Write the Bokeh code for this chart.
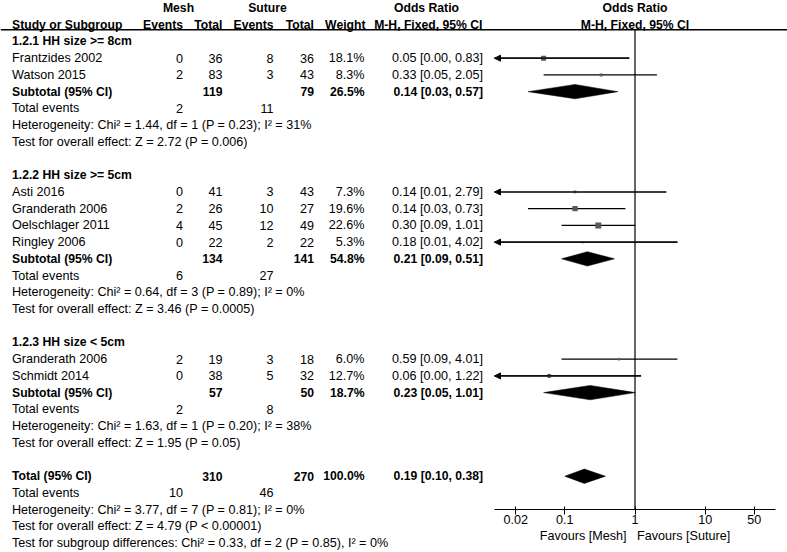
import math
from collections import defaultdict
from bokeh.plotting import figure
from bokeh.models import (ColumnDataSource, Range1d, Span, FixedTicker, LogScale, LogAxis,
                          CustomJSTickFormatter, Arrow, NormalHead)
from bokeh.core.properties import value
from bokeh.embed import file_html
from bokeh.resources import INLINE

# ---------------- data ----------------
groups = ["1.2.1 HH size >= 8cm", "1.2.2 HH size >= 5cm", "1.2.3 HH size < 5cm"]
study_names = ["Frantzides 2002", "Watson 2015", "Asti 2016", "Granderath 2006",
               "Oelschlager 2011", "Ringley 2006", "Granderath 2006", "Schmidt 2014"]
study_group = [0, 0, 1, 1, 1, 1, 2, 2]
mesh_events = [0, 2, 0, 2, 4, 0, 2, 0]
mesh_total = [36, 83, 41, 26, 45, 22, 19, 38]
suture_events = [8, 3, 3, 10, 12, 2, 3, 5]
suture_total = [36, 43, 43, 27, 49, 22, 18, 32]
weight = [18.1, 8.3, 7.3, 19.6, 22.6, 5.3, 6.0, 12.7]
odds_ratio = [0.05, 0.33, 0.14, 0.14, 0.30, 0.18, 0.59, 0.06]
ci_low = [0.00, 0.05, 0.01, 0.03, 0.09, 0.01, 0.09, 0.00]
ci_high = [0.83, 2.05, 2.79, 0.73, 1.01, 4.02, 4.01, 1.22]
ci_low_off_scale = [True, False, True, False, False, True, False, True]

sub_mesh_events = [2, 6, 2]
sub_suture_events = [11, 27, 8]
sub_mesh_total = [119, 134, 57]
sub_suture_total = [79, 141, 50]
sub_weight = [26.5, 54.8, 18.7]
sub_or = [0.14, 0.21, 0.23]
sub_low = [0.03, 0.09, 0.05]
sub_high = [0.57, 0.51, 1.01]
sub_heterogeneity = ["Heterogeneity: Chi\u00b2 = 1.44, df = 1 (P = 0.23); I\u00b2 = 31%",
                     "Heterogeneity: Chi\u00b2 = 0.64, df = 3 (P = 0.89); I\u00b2 = 0%",
                     "Heterogeneity: Chi\u00b2 = 1.63, df = 1 (P = 0.20); I\u00b2 = 38%"]
sub_overall = ["Test for overall effect: Z = 2.72 (P = 0.006)",
               "Test for overall effect: Z = 3.46 (P = 0.0005)",
               "Test for overall effect: Z = 1.95 (P = 0.05)"]

total_mesh_total = 310
total_suture_total = 270
total_weight = 100.0
total_or = 0.19
total_low = 0.10
total_high = 0.38
total_mesh_events = 10
total_suture_events = 46
total_heterogeneity = "Heterogeneity: Chi\u00b2 = 3.77, df = 7 (P = 0.81); I\u00b2 = 0%"
total_overall = "Test for overall effect: Z = 4.79 (P < 0.00001)"
subgroup_diff = "Test for subgroup differences: Chi\u00b2 = 0.33, df = 2 (P = 0.85), I\u00b2 = 0%"

tick_values = [0.02, 0.1, 1, 10, 50]
tick_labels = ["0.02", "0.1", "1", "10", "50"]
axis_min, axis_max = 0.01, 100
null_value = 1
favours_left = "Favours [Mesh]"
favours_right = "Favours [Suture]"

# ---------------- layout constants ----------------
FONT = "Liberation Sans"
FS_N = "12.6px"
FS_B = "12.2px"
ROW_PX = 16.72
TOP = -0.452
W, H = 787, 552
X_STUDY, X_ME, X_MT, X_SE, X_ST, X_W, X_OR = 11.5, 182.5, 222, 273, 313.5, 364, 482.5
HEADER_LINE_ROW = 1.30
AX_X0, AX_X1 = 494, 775          # page px of axis_min / axis_max
SQ_COLOR = "#5a5a5a"
LW = 1.2

texts = []   # (x, row, text, align, bold)
texts += [(178, 0, "Mesh", "center", True), (267, 0, "Suture", "center", True),
          (426, 0, "Odds Ratio", "center", True),
          (X_STUDY, 1, "Study or Subgroup", "left", True),
          (X_ME, 1, "Events", "right", True), (X_MT, 1, "Total", "right", True),
          (X_SE, 1, "Events", "right", True), (X_ST, 1, "Total", "right", True),
          (365, 1, "Weight", "right", True),
          (482, 1, "M-H, Fixed, 95% CI", "right", True)]


def or_txt(o, lo, hi):
    return f"{o:.2f} [{lo:.2f}, {hi:.2f}]"


r = 2
study_rows = [0] * len(study_names)
sub_rows = []
for g, gname in enumerate(groups):
    texts.append((X_STUDY, r, gname, "left", True))
    r += 1
    for i in range(len(study_names)):
        if study_group[i] != g:
            continue
        study_rows[i] = r
        texts += [(X_STUDY, r, study_names[i], "left", False),
                  (X_ME, r, str(mesh_events[i]), "right", False),
                  (X_MT, r, str(mesh_total[i]), "right", False),
                  (X_SE, r, str(suture_events[i]), "right", False),
                  (X_ST, r, str(suture_total[i]), "right", False),
                  (X_W, r, f"{weight[i]:.1f}%", "right", False),
                  (X_OR, r, or_txt(odds_ratio[i], ci_low[i], ci_high[i]), "right", False)]
        r += 1
    sub_rows.append(r)
    texts += [(X_STUDY, r, "Subtotal (95% CI)", "left", True),
              (X_MT, r, str(sub_mesh_total[g]), "right", True),
              (X_ST, r, str(sub_suture_total[g]), "right", True),
              (X_W, r, f"{sub_weight[g]:.1f}%", "right", True),
              (X_OR, r, or_txt(sub_or[g], sub_low[g], sub_high[g]), "right", True)]
    r += 1
    texts += [(X_STUDY, r, "Total events", "left", False),
              (X_ME, r, str(sub_mesh_events[g]), "right", False),
              (X_SE, r, str(sub_suture_events[g]), "right", False)]
    r += 1
    texts.append((X_STUDY, r, sub_heterogeneity[g], "left", False))
    r += 1
    texts.append((X_STUDY, r, sub_overall[g], "left", False))
    r += 2

total_row = r
texts += [(X_STUDY, r, "Total (95% CI)", "left", True),
          (X_MT, r, str(total_mesh_total), "right", True),
          (X_ST, r, str(total_suture_total), "right", True),
          (X_W, r, f"{total_weight:.1f}%", "right", True),
          (X_OR, r, or_txt(total_or, total_low, total_high), "right", True)]
r += 1
texts += [(X_STUDY, r, "Total events", "left", False),
          (X_ME, r, str(total_mesh_events), "right", False),
          (X_SE, r, str(total_suture_events), "right", False)]
r += 1
texts.append((X_STUDY, r, total_heterogeneity, "left", False))
axis_row = r
r += 1
texts.append((X_STUDY, r, total_overall, "left", False))
r += 1
texts.append((X_STUDY, r, subgroup_diff, "left", False))


def add_texts(fig, entries, **kw):
    buckets = defaultdict(lambda: dict(x=[], y=[], text=[]))
    for x, y, t, align, bold in entries:
        b = buckets[(align, bold)]
        b["x"].append(x)
        b["y"].append(y)
        b["text"].append(t)
    for (align, bold), d in buckets.items():
        fig.text(x="x", y="y", text="text", source=ColumnDataSource(d),
                 text_align=align, text_baseline="middle",
                 text_font=value(FONT), text_font_size=FS_B if bold else FS_N,
                 text_font_style="bold" if bold else "normal", text_color="black", **kw)


# log range for the forest part: axis_min at AX_X0 px, axis_max at AX_X1 px
dec_px = (AX_X1 - AX_X0) / (math.log10(axis_max) - math.log10(axis_min))
x_lo = 10 ** (math.log10(axis_min) - AX_X0 / dec_px)
x_hi = 10 ** (math.log10(axis_max) + (W - AX_X1) / dec_px)

p = figure(width=W, height=H, x_range=Range1d(0, W), y_range=Range1d(TOP + H / ROW_PX, TOP),
           x_axis_type=None, y_axis_type=None, output_backend="svg",
           toolbar_location=None, min_border=0)
p.extra_x_ranges = {"or": Range1d(x_lo, x_hi)}
p.extra_x_scales = {"or": LogScale()}
p.grid.visible = False
p.outline_line_color = None
p.add_layout(Span(location=HEADER_LINE_ROW, dimension="width", line_color="black", line_width=1.5))

add_texts(p, texts)
add_texts(p, [(null_value, 0, "Odds Ratio", "center", True),
              (null_value, 1, "M-H, Fixed, 95% CI", "center", True)], x_range_name="or")

# null line
p.segment(x0=[null_value], y0=[HEADER_LINE_ROW], x1=[null_value], y1=[axis_row],
          line_color="black", line_width=LW, x_range_name="or")

# whiskers
lo_plot = [axis_min if off else max(lo, axis_min) for lo, off in zip(ci_low, ci_low_off_scale)]
p.segment(x0=lo_plot, y0=study_rows, x1=ci_high, y1=study_rows, line_color="black",
          line_width=LW, x_range_name="or")

# arrow heads for CIs running beyond the axis
arr = ColumnDataSource(dict(
    x0=[h for h, off in zip(ci_high, ci_low_off_scale) if off],
    x1=[axis_min for off in ci_low_off_scale if off],
    y=[rr for rr, off in zip(study_rows, ci_low_off_scale) if off]))
p.add_layout(Arrow(end=NormalHead(size=6, fill_color="black", line_color="black", line_width=1),
                   x_start="x0", y_start="y", x_end="x1", y_end="y", source=arr,
                   line_color="black", line_width=LW, x_range_name="or"))

# study squares (size from weight)
sizes = [1.2 + 0.21 * w for w in weight]
p.scatter(x=odds_ratio, y=study_rows, marker="square", size=sizes,
          fill_color=SQ_COLOR, line_color=None, x_range_name="or")

# diamonds
half_h = 7.2 / ROW_PX
d_or = sub_or + [total_or]
d_lo = sub_low + [total_low]
d_hi = sub_high + [total_high]
d_rows = sub_rows + [total_row]
p.patches(xs=[[lo, o, hi, o] for o, lo, hi in zip(d_or, d_lo, d_hi)],
          ys=[[rr, rr - half_h, rr, rr + half_h] for rr in d_rows],
          fill_color="black", line_color="black", line_width=0.5, x_range_name="or")

ax = LogAxis(x_range_name="or", fixed_location=axis_row)
ax.ticker = FixedTicker(ticks=tick_values)
ax.formatter = CustomJSTickFormatter(args=dict(vals=tick_values, labs=tick_labels),
                                     code="const i = vals.indexOf(tick); return i >= 0 ? labs[i] : '';")
ax.bounds = (axis_min, axis_max)
ax.axis_line_color = "black"
ax.axis_line_width = 1
ax.major_tick_in = 3
ax.major_tick_out = 5
ax.major_tick_line_color = "black"
ax.minor_tick_line_color = None
ax.major_label_standoff = 0
ax.major_label_text_font = FONT
ax.major_label_text_font_size = FS_N
ax.major_label_text_color = "black"
ax.axis_label = favours_left + "\u00a0\u00a0\u00a0" + favours_right
ax.axis_label_text_font = FONT
ax.axis_label_text_font_size = FS_N
ax.axis_label_text_font_style = "normal"
ax.axis_label_text_color = "black"
ax.axis_label_standoff = 2
p.add_layout(ax, "below")

open("out.html", "w").write(file_html(p, INLINE))
